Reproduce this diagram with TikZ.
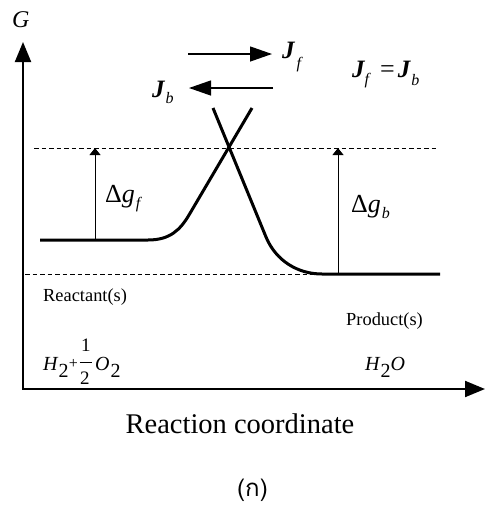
\documentclass[tikz,border=0pt]{standalone}
\usepackage{fontspec}
\setmainfont{Liberation Serif}
\newfontfamily\thaifont[Script=Thai]{Loma}
\usetikzlibrary{arrows.meta}
\newcommand{\fs}[1]{\fontsize{#1}{#1}\selectfont}
\begin{document}
\begin{tikzpicture}[x=1pt,y=-1pt,
  axis/.style={line width=2pt,{Triangle[length=20pt,width=16pt]}-{Triangle[length=20pt,width=16pt]}},
  curve/.style={line width=3pt},
  guide/.style={line width=0.8pt,dash pattern=on 4.5pt off 3pt},
  gap/.style={line width=0.9pt,-{Triangle[length=7pt,width=11pt]}},
  flux/.style={line width=1.3pt,-{Triangle[length=22pt,width=15pt]}},
  lbl/.style={inner sep=0pt,anchor=base west}]
\useasboundingbox (0,0) rectangle (486,507);
% axes
\coordinate (O) at (23,389);
\coordinate (ytip) at (23,42);
\coordinate (xtip) at (485,389);
\draw[axis] (ytip) -- (O) -- (xtip);
% guide lines
\coordinate (hiL) at (34,148);
\coordinate (hiR) at (438,148);
\coordinate (loL) at (25,274);
\coordinate (loR) at (440,274);
\draw[guide] (hiL) -- (hiR);
\draw[guide] (loL) -- (loR);
% energy curves
\coordinate (rA) at (40,240);
\coordinate (rB) at (148,240);
\coordinate (rC) at (189,215);
\coordinate (rD) at (252,108);
\draw[curve] (rA) -- (rB) .. controls (170,240) and (180,230) .. (rC) -- (rD);
\coordinate (pA) at (213,108);
\coordinate (pB) at (266,237);
\coordinate (pC) at (322,274);
\coordinate (pD) at (440,274);
\draw[curve] (pA) -- (pB) .. controls (276,261) and (298,274) .. (pC) -- (pD);
% gap arrows
\coordinate (gfB) at (95,240);
\coordinate (gfT) at (95,148);
\coordinate (gbB) at (338,274);
\coordinate (gbT) at (338,148);
\draw[gap] (gfB) -- (gfT);
\draw[gap] (gbB) -- (gbT);
% flux arrows
\coordinate (fS) at (188,54);
\coordinate (fE) at (272,54);
\coordinate (bS) at (273,88);
\coordinate (bE) at (189,88);
\draw[flux] (fS) -- (fE);
\draw[flux] (bS) -- (bE);
% labels
\node[lbl] (G) at (12,27) {\fs{24}\itshape G};
\node[lbl] (Jf) at (282,58) {\fs{25}\bfseries\itshape J\hspace{2pt}\raisebox{-10pt}{\fs{16}\mdseries f}};
\node[lbl] (Jb) at (152,97) {\fs{25}\bfseries\itshape J\hspace{1pt}\raisebox{-6pt}{\fs{16}\mdseries b}};
\node[lbl] (Jeq) at (352,77) {\fs{25}\bfseries\itshape J\hspace{0pt}\raisebox{-7pt}{\fs{16}\mdseries f}\hspace{11pt}{\mdseries\upshape\fs{26}=}\hspace{3pt}J\hspace{1pt}\raisebox{-8pt}{\fs{16}\mdseries b}};
\node[lbl] (dgf) at (105,202) {\fs{26}Δ\textit{g}\hspace{1pt}\raisebox{-6pt}{\fs{16}\itshape f}};
\node[lbl] (dgb) at (351,212) {\fs{26}Δ\textit{g}\hspace{1pt}\raisebox{-6pt}{\fs{16}\itshape b}};
\node[lbl] (react) at (43,301) {\fs{18.4}Reactant(s)};
\node[lbl] (prod) at (346,325) {\fs{18.4}Product(s)};
\node[lbl] (h2) at (43,370) {\fs{20}\itshape H\hspace{1pt}\raisebox{-7pt}{\upshape 2}};
\node[inner sep=0pt,anchor=base] (plus) at (73.5,368) {\fs{16}+};
\node[lbl] (one) at (81,351) {\fs{19}1};
\node[lbl] (two) at (80,384) {\fs{19}2};
\coordinate (barL) at (79.5,362);
\coordinate (barR) at (92,362);
\draw[line width=0.8pt] (barL) -- (barR);
\node[lbl] (o2) at (95,370) {\fs{20}\itshape O\hspace{1pt}\raisebox{-7pt}{\upshape 2}};
\node[lbl] (h2o) at (365,370) {\fs{20}\itshape H\hspace{1pt}\raisebox{-7pt}{\upshape 2}O};
\node[inner sep=0pt,anchor=base] (xlabel) at (240,433) {\fs{28.5}Reaction coordinate};
\node[inner sep=0pt,anchor=base] (cap) at (252.5,496) {\fs{24}\thaifont (ก)};
\end{tikzpicture}
\end{document}
